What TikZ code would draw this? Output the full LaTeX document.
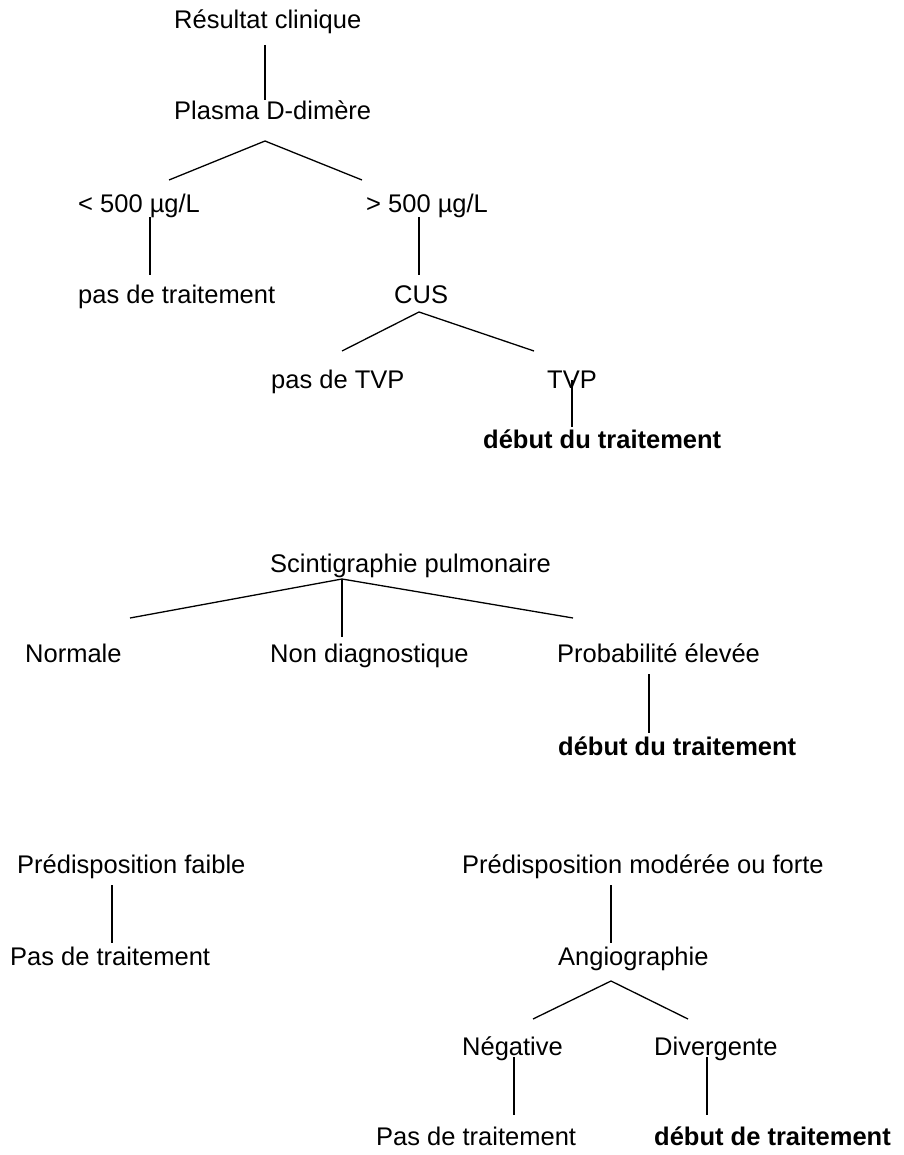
\documentclass[tikz,border=0pt]{standalone}
\usepackage{fontspec}
\setmainfont{Liberation Sans}
\usetikzlibrary{positioning}
\tikzset{
  txt/.style  = {anchor=base west, inner sep=0pt,
                 font=\fontsize{25.5}{30}\selectfont},
  txtb/.style = {txt, font=\fontsize{25.5}{30}\selectfont\bfseries},
  ln/.style   = {line width=1.3pt}
}

\begin{document}
\begin{tikzpicture}[x=1pt, y=-1pt]
  \useasboundingbox (0,0) rectangle (903,1155);
  % D-dimere
  \node[txt]  (clin)   at (174,29)   {Résultat clinique};
  \node[txt]  (plasma) at (174,120)  {Plasma D-dimère};
  \node[txt]  (low)    at (78,213)   {< 500 µg/L};
  \node[txt]  (high)   at (366,213)  {> 500 µg/L};
  \node[txt]  (nott1)  at (78,303)   {pas de traitement};
  \node[txt]  (cus)    at (394,303)  {CUS};
  \node[txt]  (notvp)  at (271,388)  {pas de TVP};
  \node[txt]  (tvp)    at (547,388)  {TVP};
  \node[txtb] (start1) at (483,448)  {début du traitement};
  % scintigraphie
  \node[txt]  (scinti)   at (270,572) {Scintigraphie pulmonaire};
  \node[txt]  (normal)   at (25,662)  {Normale};
  \node[txt]  (nondiag)  at (270,662) {Non diagnostique};
  \node[txt]  (highprob) at (557,662) {Probabilité élevée};
  \node[txtb] (start2)   at (558,755) {début du traitement};
  % predisposition
  \node[txt]  (lowpre) at (17,873)   {Prédisposition faible};
  \node[txt]  (nott2)  at (10,965)   {Pas de traitement};
  \node[txt]  (modpre) at (462,873)  {Prédisposition modérée ou forte};
  \node[txt]  (angio)  at (558,965)  {Angiographie};
  \node[txt]  (neg)    at (462,1055) {Négative};
  \node[txt]  (div)    at (654,1055) {Divergente};
  \node[txt]  (nott3)  at (376,1145) {Pas de traitement};
  \node[txtb] (start3) at (654,1145) {début de traitement};

  \coordinate (a1) at (265,45);   \coordinate (a2) at (265,100);
  \coordinate (b0) at (265,141);  \coordinate (b1) at (169,180);
  \coordinate (b2) at (362,180);
  \coordinate (c1) at (150,217);  \coordinate (c2) at (150,275);
  \coordinate (d1) at (419,217);  \coordinate (d2) at (419,275);
  \coordinate (e0) at (419,312);  \coordinate (e1) at (342,351);
  \coordinate (e2) at (534,351);
  \coordinate (f1) at (572,380);  \coordinate (f2) at (572,427);
  \coordinate (g0) at (342,579);  \coordinate (g1) at (130,618);
  \coordinate (g2) at (573,618);  \coordinate (g3) at (342,637);
  \coordinate (h1) at (649,674);  \coordinate (h2) at (649,733);
  \coordinate (i1) at (112,885);  \coordinate (i2) at (112,943);
  \coordinate (j1) at (611,885);  \coordinate (j2) at (611,943);
  \coordinate (k0) at (611,981);  \coordinate (k1) at (533,1019);
  \coordinate (k2) at (688,1019);
  \coordinate (l1) at (514,1057); \coordinate (l2) at (514,1115);
  \coordinate (m1) at (707,1057); \coordinate (m2) at (707,1115);

  \draw[ln] (a1) -- (a2);
  \draw[ln] (b1) -- (b0) -- (b2);
  \draw[ln] (c1) -- (c2);
  \draw[ln] (d1) -- (d2);
  \draw[ln] (e1) -- (e0) -- (e2);
  \draw[ln] (f1) -- (f2);
  \draw[ln] (g1) -- (g0) -- (g2);
  \draw[ln] (g0) -- (g3);
  \draw[ln] (h1) -- (h2);
  \draw[ln] (i1) -- (i2);
  \draw[ln] (j1) -- (j2);
  \draw[ln] (k1) -- (k0) -- (k2);
  \draw[ln] (l1) -- (l2);
  \draw[ln] (m1) -- (m2);
\end{tikzpicture}
\end{document}
